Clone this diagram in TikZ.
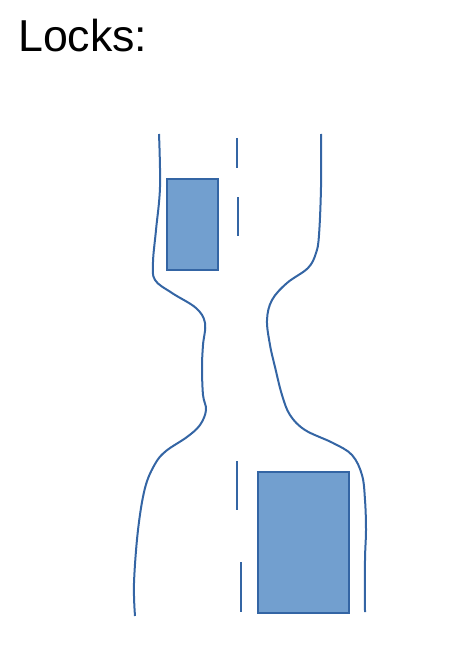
\documentclass[tikz,border=0pt]{standalone}
\usepackage{fontspec}
\setmainfont{Liberation Sans}
\definecolor{bankcol}{RGB}{52,101,164}
\definecolor{boatfill}{RGB}{114,159,207}
\begin{document}
\begin{tikzpicture}[x=1pt,y=-1pt,
  bank/.style={draw=bankcol,line width=2pt},
  dashline/.style={draw=bankcol,line width=2pt},
  boat/.style={draw=bankcol,fill=boatfill,line width=1.6pt}]
\useasboundingbox (0,0) rectangle (461,671);
\node[anchor=base west,inner sep=0pt,font=\fontsize{44.7}{50}\selectfont] (title) at (18,52) {Locks:};
% left bank
\draw[bank] plot[smooth,tension=0.6] coordinates {(159,134) (160,187) (156,230) (153,262) (155,280) (172,293) (196,308) (205,323) (203,345) (202,367) (203,395) (206,410) (200,425) (187,437) (166,451) (155,464) (145,488) (138,530) (134,583) (135,616)};
% right bank
\draw[bank] plot[smooth,tension=0.6] coordinates {(321,134) (321,187) (319,235) (316,253) (308,268) (287,283) (272,300) (267,320) (270,345) (275,367) (282,395) (290,415) (305,430) (333,443) (352,455) (362,475) (365,500) (366,530) (365,560) (365,612)};
% gates (dashes)
\draw[dashline] (237,138) -- (237,168);
\draw[dashline] (238,197) -- (238,236);
\draw[dashline] (237,461) -- (237,510);
\draw[dashline] (241,562) -- (241,612);
% boats
\node[boat,minimum width=51pt,minimum height=91pt,inner sep=0pt,anchor=north west] (boatA) at (166,178) {};
\node[boat,minimum width=91pt,minimum height=141pt,inner sep=0pt,anchor=north west] (boatB) at (257,471) {};
\end{tikzpicture}
\end{document}
